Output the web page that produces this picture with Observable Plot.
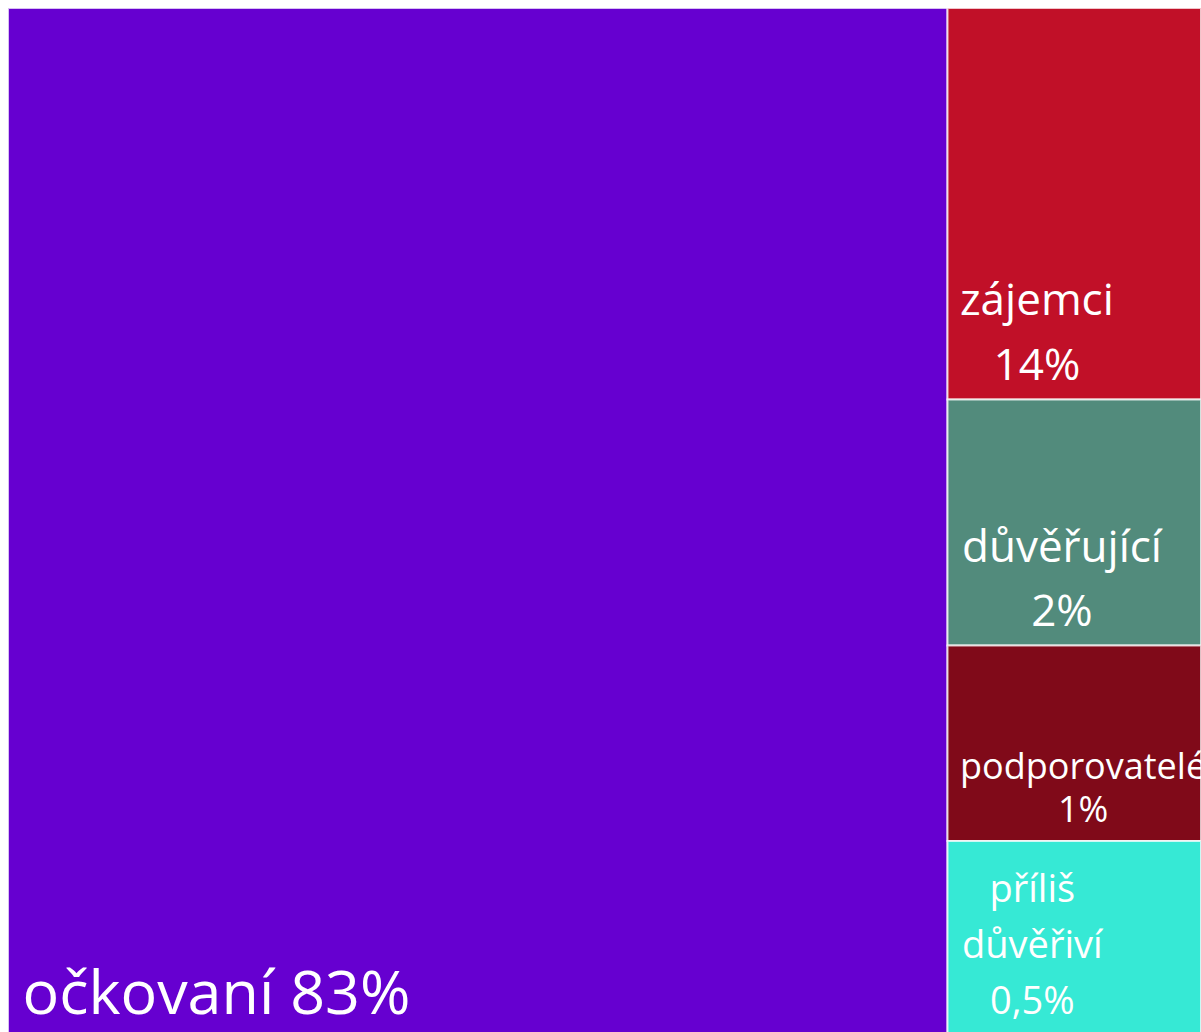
<!DOCTYPE html>
<html><head><meta charset="utf-8">
<script src="https://cdn.jsdelivr.net/npm/d3@7"></script>
<script src="https://cdn.jsdelivr.net/npm/@observablehq/plot@0.6"></script>
<style>
html{overflow:hidden;background:#fff}
body{margin:8px 0 0 8px}
svg{max-width:none!important}
</style></head><body><div id="chart"></div>
<script>
// ---- data ----
const categories = ["očkovaní", "zájemci", "důvěřující", "podporovatelé", "příliš důvěřiví"];
const shares = [83, 14, 2, 1, 0.5];
const shareLabels = ["83%", "14%", "2%", "1%", "0,5%"];
// label lines as they are broken in the picture
const labelLines = [["očkovaní 83%"], ["zájemci", "14%"], ["důvěřující", "2%"], ["podporovatelé", "1%"], ["příliš", "důvěřiví", "0,5%"]];
// tile areas as drawn in the reference (thousand px², not proportional to shares)
const tileArea = [963.0, 99.25, 62.36, 49.56, 48.67];

// ---- styles ----
const colors = ["#6600d0", "#c11028", "#528b7c", "#800a19", "#36e9d5"];
const FONT = "Open Sans";
const labelStyle = [
  {size: 61, gap: 0, padX: 14},
  {size: 44, gap: 65, padX: 12},
  {size: 44, gap: 64, padX: 14},
  {size: 36, gap: 43, padX: 12},
  {size: 38, gap: 56, padX: 14}
];
const W = 1193, H = 1025, BOTTOM = 20;

// ---- layout ----
const root = d3.hierarchy({children: [
  {i: 0, value: tileArea[0]},
  {children: [1, 2, 3, 4].map(i => ({i, value: tileArea[i]}))}
]}).sum(d => d.value ?? 0);
d3.treemap().tile(d3.treemapSliceDice).size([W, H])(root);
const cells = root.leaves().map(n => ({
  category: categories[n.data.i], share: shares[n.data.i], label: shareLabels[n.data.i],
  i: n.data.i, x0: n.x0, x1: n.x1, y0: n.y0, y1: n.y1
}));

const ctx = document.createElement("canvas").getContext("2d");
const lines = [];
for (const c of cells) {
  const st = labelStyle[c.i];
  const ls = labelLines[c.i];
  ctx.font = `${st.size}px "${FONT}"`;
  const wmax = d3.max(ls, s => ctx.measureText(s).width);
  ls.forEach((t, k) => lines.push({
    text: t, size: st.size,
    x: c.x0 + st.padX + wmax / 2,
    y: c.y1 - BOTTOM - (ls.length - 1 - k) * st.gap
  }));
}

const chart = Plot.plot({
  width: W, height: H, margin: 0, axis: null,
  style: {fontFamily: FONT, maxWidth: "none", background: "white"},
  x: {type: "identity"}, y: {type: "identity"},
  color: {domain: categories, range: colors},
  marks: [
    Plot.rect(cells, {x1: "x0", x2: "x1", y1: "y0", y2: "y1", fill: "category",
      stroke: "white", strokeOpacity: 0.75, strokeWidth: 2}),
    Plot.text(lines, {x: "x", y: "y", text: "text", fontSize: "size", fill: "white",
      textAnchor: "middle", lineAnchor: "bottom", fontFamily: FONT})
  ]
});
document.getElementById("chart").append(chart);
</script></body></html>
